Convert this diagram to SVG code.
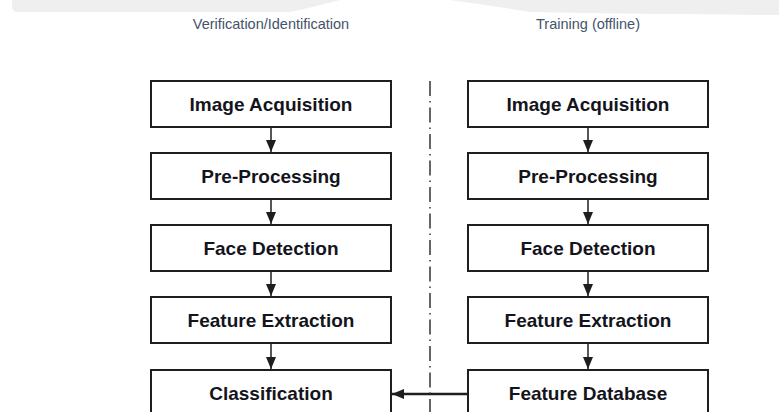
<svg xmlns="http://www.w3.org/2000/svg" width="779" height="412" viewBox="0 0 779 412">
  <style>
    .box { fill: #ffffff; stroke: #1e1e1e; stroke-width: 2; }
    .label { font-family: "Liberation Sans", Arial, sans-serif; font-weight: bold; font-size: 19px; fill: #14141c; text-anchor: middle; }
    .title { font-family: "Liberation Sans", Arial, sans-serif; font-size: 14.5px; fill: #44546a; text-anchor: middle; }
    .flow { stroke: #1e1e1e; stroke-width: 1.5; fill: none; }
    .feed { stroke: #1e1e1e; stroke-width: 2.5; fill: none; }
    .divider { stroke: #333333; stroke-width: 1.5; fill: none; stroke-dasharray: 15 5 1.5 5; }
  </style>
  <defs>
    <marker id="head" viewBox="0 0 12 10" refX="12" refY="5" markerWidth="12" markerHeight="10" markerUnits="userSpaceOnUse" orient="auto">
      <path d="M0,0 L12,5 L0,10 Z" fill="#1e1e1e"/>
    </marker>
  </defs>

  <rect width="779" height="412" fill="#ffffff"/>
  <!-- pale band along the top edge -->
  <path d="M12,0 H779 V15 Q650,14 530,12 Q480,4 450,0 H340 Q310,8 290,12 H18 Q12,12 12,6 Z" fill="#efefef"/>

  <!-- column headings -->
  <text class="title" x="271" y="29">Verification/Identification</text>
  <text class="title" x="588" y="29">Training (offline)</text>

  <!-- verification / identification column -->
  <g id="v-acquisition">
    <rect class="box" x="151" y="81" width="240" height="46"/>
    <text class="label" x="271" y="111">Image Acquisition</text>
  </g>
  <g id="v-preprocessing">
    <rect class="box" x="151" y="153" width="240" height="46"/>
    <text class="label" x="271" y="183">Pre-Processing</text>
  </g>
  <g id="v-detection">
    <rect class="box" x="151" y="225" width="240" height="46"/>
    <text class="label" x="271" y="255">Face Detection</text>
  </g>
  <g id="v-extraction">
    <rect class="box" x="151" y="297" width="240" height="46"/>
    <text class="label" x="271" y="327">Feature Extraction</text>
  </g>
  <g id="v-classification">
    <rect class="box" x="151" y="370" width="240" height="60"/>
    <text class="label" x="271" y="400">Classification</text>
  </g>

  <!-- training column -->
  <g id="t-acquisition">
    <rect class="box" x="468" y="81" width="240" height="46"/>
    <text class="label" x="588" y="111">Image Acquisition</text>
  </g>
  <g id="t-preprocessing">
    <rect class="box" x="468" y="153" width="240" height="46"/>
    <text class="label" x="588" y="183">Pre-Processing</text>
  </g>
  <g id="t-detection">
    <rect class="box" x="468" y="225" width="240" height="46"/>
    <text class="label" x="588" y="255">Face Detection</text>
  </g>
  <g id="t-extraction">
    <rect class="box" x="468" y="297" width="240" height="46"/>
    <text class="label" x="588" y="327">Feature Extraction</text>
  </g>
  <g id="t-database">
    <rect class="box" x="468" y="370" width="240" height="60"/>
    <text class="label" x="588" y="400">Feature Database</text>
  </g>

  <!-- separator between the two phases -->
  <line class="divider" x1="430" y1="81" x2="430" y2="412"/>

  <g id="connectors">
    <line class="flow" x1="271" y1="128" x2="271" y2="152" marker-end="url(#head)"/>
    <line class="flow" x1="271" y1="200" x2="271" y2="224" marker-end="url(#head)"/>
    <line class="flow" x1="271" y1="272" x2="271" y2="296" marker-end="url(#head)"/>
    <line class="flow" x1="271" y1="344" x2="271" y2="369" marker-end="url(#head)"/>
    <line class="flow" x1="588" y1="128" x2="588" y2="152" marker-end="url(#head)"/>
    <line class="flow" x1="588" y1="200" x2="588" y2="224" marker-end="url(#head)"/>
    <line class="flow" x1="588" y1="272" x2="588" y2="296" marker-end="url(#head)"/>
    <line class="flow" x1="588" y1="344" x2="588" y2="369" marker-end="url(#head)"/>
    <line class="feed" x1="467" y1="394" x2="392" y2="394" marker-end="url(#head)"/>
  </g>
</svg>
